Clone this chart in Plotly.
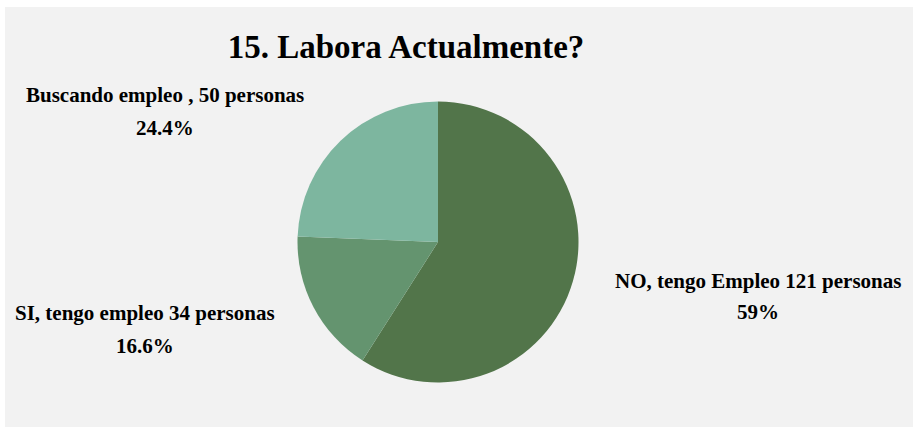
import plotly.graph_objects as go

categories = ["NO, tengo Empleo", "SI, tengo empleo", "Buscando empleo ,"]
values = [121, 34, 50]
colors = ["#52754a", "#64946f", "#7db69f"]
title_text = "15. Labora Actualmente?"

W, H = 913, 427
total = sum(values)

def pct(v):
    p = round(v / total * 100, 1)
    s = f"{p:.1f}"
    if s.endswith(".0"):
        s = s[:-2]
    return s + "%"

label_line1 = [
    f"{categories[0]} {values[0]} personas",
    f"{categories[1]} {values[1]} personas",
    f"{categories[2]} {values[2]} personas",
]
label_line2 = [pct(v) for v in values]

# label pixel positions (center x, line1 y, line2 y)
label_pos = [(758, 281, 312), (145, 313, 346), (165, 95, 128)]

cx, cy, r = 438, 242, 140.5

fig = go.Figure(go.Pie(
    labels=categories,
    values=values,
    marker=dict(colors=colors, line=dict(width=0)),
    sort=False,
    direction="clockwise",
    rotation=0,
    textinfo="none",
    hoverinfo="label+value+percent",
    showlegend=False,
    domain=dict(x=[(cx - r) / W, (cx + r) / W], y=[(H - cy - r) / H, (H - cy + r) / H]),
))

font_family = "Liberation Serif, Times New Roman, serif"
annotations = []
for (x, y1, y2), t1, t2 in zip(label_pos, label_line1, label_line2):
    annotations.append(dict(x=x / W, y=1 - y1 / H, xref="paper", yref="paper", text=t1,
                            showarrow=False, xanchor="center", yanchor="middle",
                            font=dict(family=font_family, size=21, color="#000000", weight="bold")))
    annotations.append(dict(x=x / W, y=1 - y2 / H, xref="paper", yref="paper", text=t2,
                            showarrow=False, xanchor="center", yanchor="middle",
                            font=dict(family=font_family, size=21, color="#000000", weight="bold")))

fig.update_layout(
    width=W, height=H,
    margin=dict(l=0, r=0, t=0, b=0),
    paper_bgcolor="#ffffff",
    title=dict(text=title_text, x=406 / W, y=1 - 46 / H, xanchor="center", yanchor="middle",
               xref="paper", yref="paper",
               font=dict(family=font_family, size=33, color="#000000", weight="bold")),
    shapes=[dict(type="rect", xref="paper", yref="paper", x0=5 / W, x1=1, y0=0, y1=1 - 7 / H,
                 fillcolor="#f2f2f2", line=dict(width=0), layer="below")],
    annotations=annotations,
)

fig.write_html("out.html", config={"displayModeBar": False},
               post_script="document.body.style.margin='0px';document.body.style.padding='0px';")
